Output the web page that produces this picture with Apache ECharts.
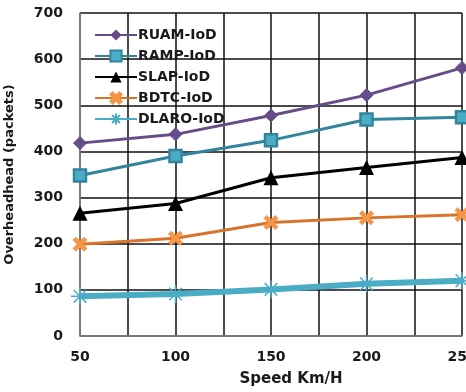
<!DOCTYPE html>
<html>
<head>
<meta charset="utf-8">
<script src="https://cdn.jsdelivr.net/npm/echarts@6/dist/echarts.min.js"></script>
<style>
html,body{margin:0;padding:0;background:#fff;}
#c{width:466px;height:392px;}
</style>
</head>
<body>
<div id="c"></div>
<script>
var speeds = [50, 100, 150, 200, 250];
var seriesNames = ['RUAM-IoD', 'RAMP-IoD', 'SLAP-IoD', 'BDTC-IoD', 'DLARO-IoD'];
var ruam = [418, 437, 478, 522, 581];
var ramp = [348, 390, 424, 469, 474];
var slap = [266, 287, 343, 365, 387];
var bdtc = [199, 212, 246, 256, 263];
var dlaro = [86, 91, 101, 113, 120];
var yTicks = [0, 100, 200, 300, 400, 500, 600, 700];

function pairs(vals){ return speeds.map(function(s,i){ return [s, vals[i]]; }); }

var font = 'DejaVu Sans';
var xPath = 'path://M0,2 L2,0 L5,3 L8,0 L10,2 L7,5 L10,8 L8,10 L5,7 L2,10 L0,8 L3,5 Z';
var starPath = 'path://M0,5 L10,5 M5,0 L5,10 M1.5,1.5 L8.5,8.5 M1.5,8.5 L8.5,1.5';

var chart = echarts.init(document.getElementById('c'));
chart.setOption({
  animation: false,
  backgroundColor: '#fff',
  grid: {left: 80, right: 4, top: 13, bottom: 56, containLabel: false, outerBoundsMode: 'none'},
  legend: {
    orient: 'vertical', left: 89, top: 23,
    itemWidth: 42, itemHeight: 14, itemGap: 7,
    textStyle: {fontFamily: font, fontWeight: 'bold', fontSize: 14, color: '#1a1a1a', padding: [0,0,0,-4]},
    data: seriesNames
  },
  xAxis: {
    type: 'value', min: 50, max: 250, interval: 25,
    name: 'Speed Km/H', nameLocation: 'middle', nameGap: 36,
    nameTextStyle: {fontFamily: font, fontWeight: 'bold', fontSize: 15, color: '#1a1a1a', padding: [0,0,0,40]},
    axisLine: {show: true, lineStyle: {color: '#888', width: 1.5}},
    axisTick: {show: false},
    axisLabel: {
      fontFamily: font, fontWeight: 'bold', fontSize: 14, color: '#1a1a1a', margin: 14,
      formatter: function(v){ return speeds.indexOf(v) >= 0 ? String(v) : ''; }
    },
    splitLine: {show: true, lineStyle: {color: '#111', width: 1.5}}
  },
  yAxis: {
    type: 'value', min: yTicks[0], max: yTicks[yTicks.length-1], interval: 100,
    name: 'Overheadhead (packets)', nameLocation: 'middle', nameGap: 64,
    nameTextStyle: {fontFamily: font, fontWeight: 'bold', fontSize: 13, color: '#1a1a1a'},
    axisLine: {show: true, lineStyle: {color: '#888', width: 1.5}},
    axisTick: {show: false},
    axisLabel: {fontFamily: font, fontWeight: 'bold', fontSize: 14, color: '#1a1a1a', margin: 17},
    splitLine: {show: true, lineStyle: {color: '#111', width: 1.5}}
  },
  series: [
    {name: seriesNames[0], type: 'line', data: pairs(ruam), symbol: 'diamond', symbolSize: 13,
     lineStyle: {color: '#664C88', width: 3}, itemStyle: {color: '#664C88', borderColor: '#664C88'}},
    {name: seriesNames[1], type: 'line', data: pairs(ramp), symbol: 'rect', symbolSize: 12,
     lineStyle: {color: '#31859C', width: 3}, itemStyle: {color: '#4BACC6', borderColor: '#31859C', borderWidth: 2.5}},
    {name: seriesNames[2], type: 'line', data: pairs(slap), symbol: 'triangle', symbolSize: 15,
     lineStyle: {color: '#000', width: 3}, itemStyle: {color: '#000'}},
    {name: seriesNames[3], type: 'line', data: pairs(bdtc), symbol: xPath, symbolSize: 14,
     lineStyle: {color: '#D8742A', width: 3}, itemStyle: {color: '#F79646', borderColor: '#F79646', borderWidth: 1}},
    {name: seriesNames[4], type: 'line', data: pairs(dlaro), symbol: starPath, symbolSize: 18,
     lineStyle: {color: '#4BACC6', width: 6}, itemStyle: {color: '#4BACC6', borderColor: '#4BACC6', borderWidth: 1.5}}
  ]
});
</script>
</body>
</html>
